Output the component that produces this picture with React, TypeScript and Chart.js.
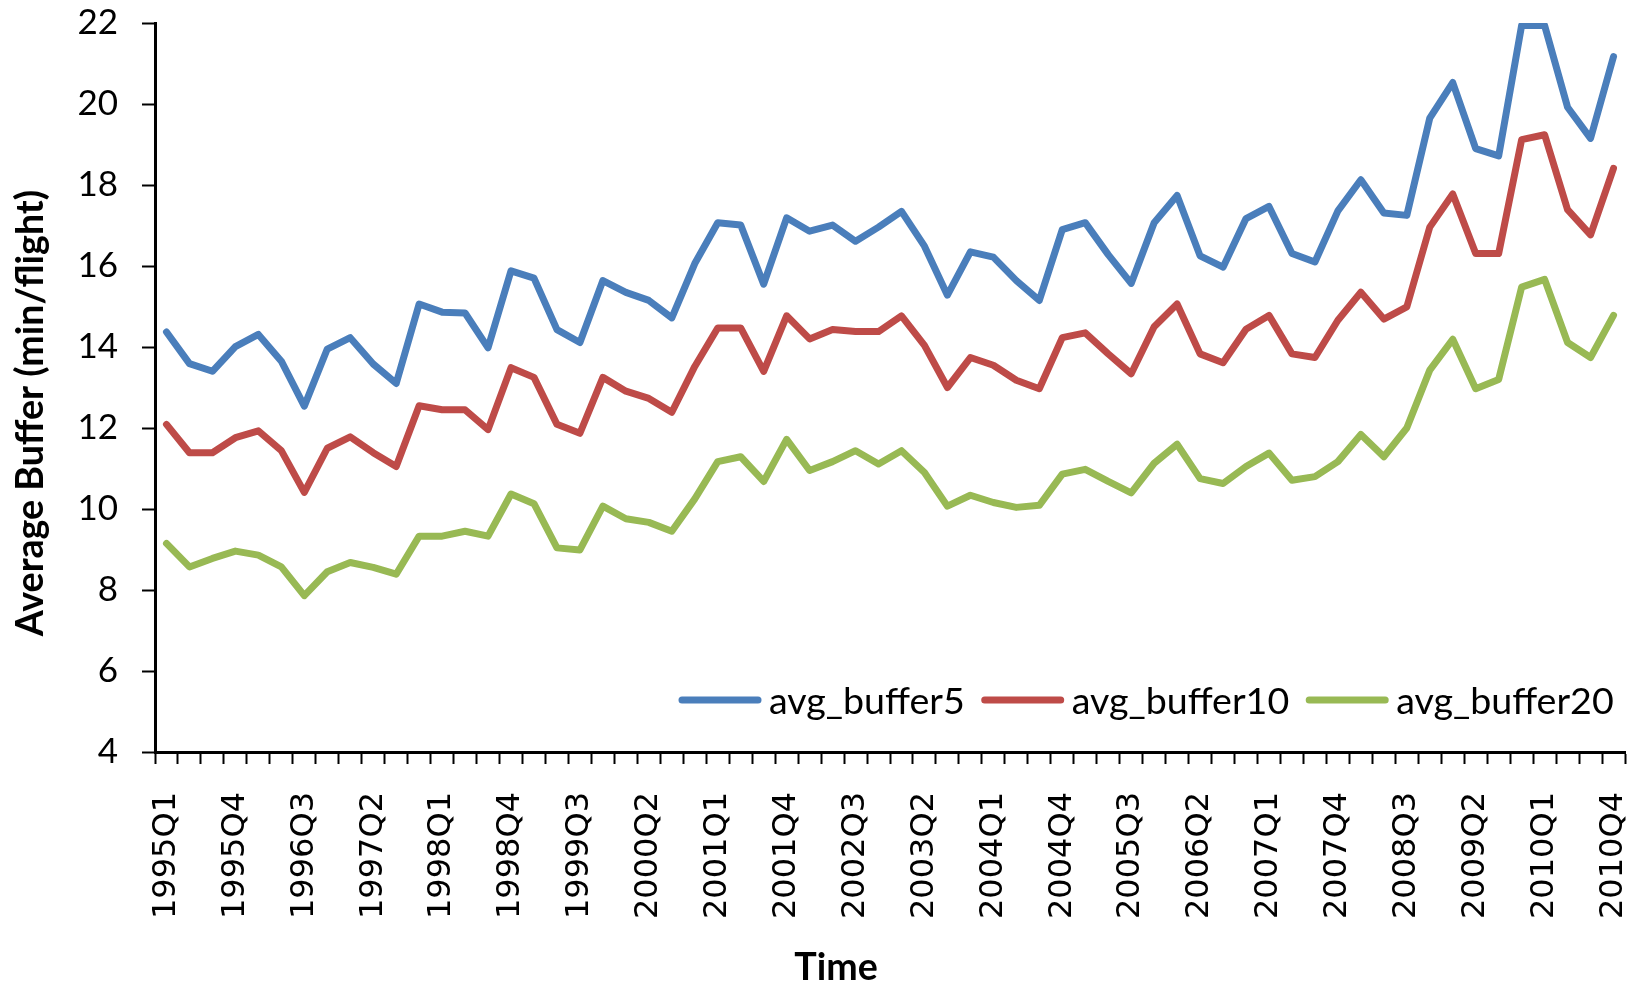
import React, { useEffect, useRef } from "react";
import { Chart, registerables } from "chart.js";

Chart.register(...registerables);

const categories = [
  "1995Q1", "1995Q2", "1995Q3", "1995Q4",
  "1996Q1", "1996Q2", "1996Q3", "1996Q4",
  "1997Q1", "1997Q2", "1997Q3", "1997Q4",
  "1998Q1", "1998Q2", "1998Q3", "1998Q4",
  "1999Q1", "1999Q2", "1999Q3", "1999Q4",
  "2000Q1", "2000Q2", "2000Q3", "2000Q4",
  "2001Q1", "2001Q2", "2001Q3", "2001Q4",
  "2002Q1", "2002Q2", "2002Q3", "2002Q4",
  "2003Q1", "2003Q2", "2003Q3", "2003Q4",
  "2004Q1", "2004Q2", "2004Q3", "2004Q4",
  "2005Q1", "2005Q2", "2005Q3", "2005Q4",
  "2006Q1", "2006Q2", "2006Q3", "2006Q4",
  "2007Q1", "2007Q2", "2007Q3", "2007Q4",
  "2008Q1", "2008Q2", "2008Q3", "2008Q4",
  "2009Q1", "2009Q2", "2009Q3", "2009Q4",
  "2010Q1", "2010Q2", "2010Q3", "2010Q4",
];

const avgBuffer5 = [
  14.37, 13.59, 13.40, 14.01, 14.31, 13.65, 12.54, 13.95,
  14.23, 13.58, 13.10, 15.06, 14.86, 14.84, 13.98, 15.88,
  15.70, 14.43, 14.11, 15.64, 15.35, 15.15, 14.72, 16.06,
  17.07, 17.01, 15.55, 17.19, 16.86, 17.01, 16.61, 16.96,
  17.35, 16.49, 15.28, 16.35, 16.22, 15.64, 15.15, 16.90,
  17.07, 16.28, 15.57, 17.07, 17.74, 16.25, 15.97, 17.17,
  17.47, 16.31, 16.10, 17.36, 18.13, 17.31, 17.25, 19.65,
  20.53, 18.90, 18.72, 21.94, 21.94, 19.92, 19.15, 21.17,
];

const avgBuffer10 = [
  12.09, 11.39, 11.39, 11.76, 11.93, 11.44, 10.41, 11.50,
  11.78, 11.39, 11.05, 12.55, 12.45, 12.45, 11.96, 13.49,
  13.25, 12.09, 11.87, 13.25, 12.91, 12.73, 12.39, 13.52,
  14.47, 14.47, 13.40, 14.77, 14.20, 14.43, 14.38, 14.38,
  14.77, 14.04, 13.00, 13.74, 13.55, 13.18, 12.97, 14.23,
  14.35, 13.83, 13.34, 14.50, 15.06, 13.83, 13.61, 14.44,
  14.78, 13.83, 13.74, 14.66, 15.35, 14.69, 14.99, 16.96,
  17.78, 16.31, 16.31, 19.12, 19.24, 17.39, 16.77, 18.41,
];

const avgBuffer20 = [
  9.15, 8.57, 8.78, 8.96, 8.86, 8.57, 7.86, 8.45,
  8.68, 8.56, 8.39, 9.33, 9.33, 9.45, 9.33, 10.37,
  10.13, 9.04, 8.99, 10.07, 9.76, 9.67, 9.45, 10.25,
  11.17, 11.29, 10.68, 11.72, 10.95, 11.17, 11.44, 11.11,
  11.44, 10.90, 10.07, 10.34, 10.16, 10.04, 10.09, 10.86,
  10.98, 10.68, 10.40, 11.13, 11.60, 10.75, 10.63, 11.05,
  11.38, 10.71, 10.80, 11.17, 11.84, 11.29, 12.00, 13.43,
  14.19, 12.97, 13.20, 15.48, 15.67, 14.11, 13.74, 14.78,
];

const seriesNames = ["avg_buffer5", "avg_buffer10", "avg_buffer20"];
const seriesColors = ["#4A7EBB", "#BE4B48", "#98B954"];
const yMin = 4;
const yMax = 22;
const yStep = 2;
const labelEvery = 3;
const xTitle = "Time";
const yTitle = "Average Buffer (min/flight)";

const W = 1640;
const H = 986;

const overlayPlugin = {
  id: "overlayTitlesLegend",
  afterDraw(chart: any) {
    const ctx: CanvasRenderingContext2D = chart.ctx;
    ctx.save();
    ctx.fillStyle = "#000";

    // axis titles (Calibri-like bold), size fitted to reference length
    ctx.font = "bold 40px Lato";
    const wt = ctx.measureText(yTitle).width;
    const titleSize = (40 * 446) / wt;
    ctx.font = `bold ${titleSize.toFixed(1)}px Lato`;
    ctx.textAlign = "center";
    ctx.textBaseline = "alphabetic";
    ctx.save();
    ctx.translate(43, 413);
    ctx.rotate(-Math.PI / 2);
    ctx.fillText(yTitle, 0, 0);
    ctx.restore();
    ctx.fillText(xTitle, 836, 980);

    // legend inside plot area, bottom right
    ctx.font = "40px Lato";
    const wl = ctx.measureText(seriesNames[0]).width;
    const legSize = (40 * 196) / wl;
    ctx.font = `${legSize.toFixed(1)}px Lato`;
    ctx.textAlign = "left";
    ctx.textBaseline = "middle";
    const ly = 700;
    let x = 679;
    seriesNames.forEach((name, i) => {
      ctx.strokeStyle = seriesColors[i];
      ctx.lineWidth = 7;
      ctx.lineCap = "round";
      ctx.beginPath();
      ctx.moveTo(x + 3, ly);
      ctx.lineTo(x + 79, ly);
      ctx.stroke();
      x += 90;
      ctx.fillText(name, x, ly + 2);
      x += ctx.measureText(name).width + 17;
    });
    ctx.restore();
  },
};

export default function App() {
  const ref = useRef<HTMLCanvasElement>(null);

  useEffect(() => {
    if (!ref.current) return;
    const data = [avgBuffer5, avgBuffer10, avgBuffer20];
    const chart = new Chart(ref.current, {
      type: "line",
      data: {
        labels: categories,
        datasets: seriesNames.map((name, i) => ({
          label: name,
          data: data[i],
          borderColor: seriesColors[i],
          backgroundColor: seriesColors[i],
          borderWidth: 7,
          pointRadius: 0,
          pointHoverRadius: 0,
          fill: false,
          tension: 0,
          borderJoinStyle: "round" as const,
          borderCapStyle: "round" as const,
        })),
      },
      options: {
        animation: false,
        responsive: false,
        devicePixelRatio: 1,
        layout: { padding: { top: 23, right: 15, left: 0, bottom: 0 } },
        plugins: {
          legend: { display: false },
          tooltip: { enabled: false },
          title: { display: false },
        },
        scales: {
          x: {
            type: "category",
            offset: true,
            grid: {
              offset: true,
              drawOnChartArea: false,
              drawTicks: true,
              tickLength: 12,
              tickWidth: 2,
              tickColor: "#000",
            },
            border: { display: true, color: "#000", width: 3 },
            ticks: {
              autoSkip: false,
              minRotation: 90,
              maxRotation: 90,
              padding: 28,
              color: "#000",
              font: { family: "DejaVu Sans", size: 32 },
              callback: (_v: any, i: number) =>
                i % labelEvery === 0 ? categories[i] : "",
            },
            afterFit: (s: any) => {
              s.height = H - 752;
              s.paddingLeft = 0;
              s.paddingRight = 0;
            },
          },
          y: {
            min: yMin,
            max: yMax,
            grid: {
              drawOnChartArea: false,
              drawTicks: true,
              tickLength: 13,
              tickWidth: 2,
              tickColor: "#000",
            },
            border: { display: true, color: "#000", width: 3 },
            ticks: {
              stepSize: yStep,
              padding: 24,
              color: "#000",
              font: { family: "Lato", size: 35 },
            },
            afterFit: (s: any) => {
              s.width = 155;
              s.paddingTop = 0;
              s.paddingBottom = 0;
            },
          },
        },
      },
      plugins: [overlayPlugin],
    });
    return () => chart.destroy();
  }, []);

  return (
    <div
      style={{
        position: "fixed",
        left: 0,
        top: 0,
        width: W,
        height: H,
        background: "#fff",
      }}
    >
      <canvas
        ref={ref}
        width={W}
        height={H}
        style={{ display: "block", width: W, height: H }}
      />
    </div>
  );
}
